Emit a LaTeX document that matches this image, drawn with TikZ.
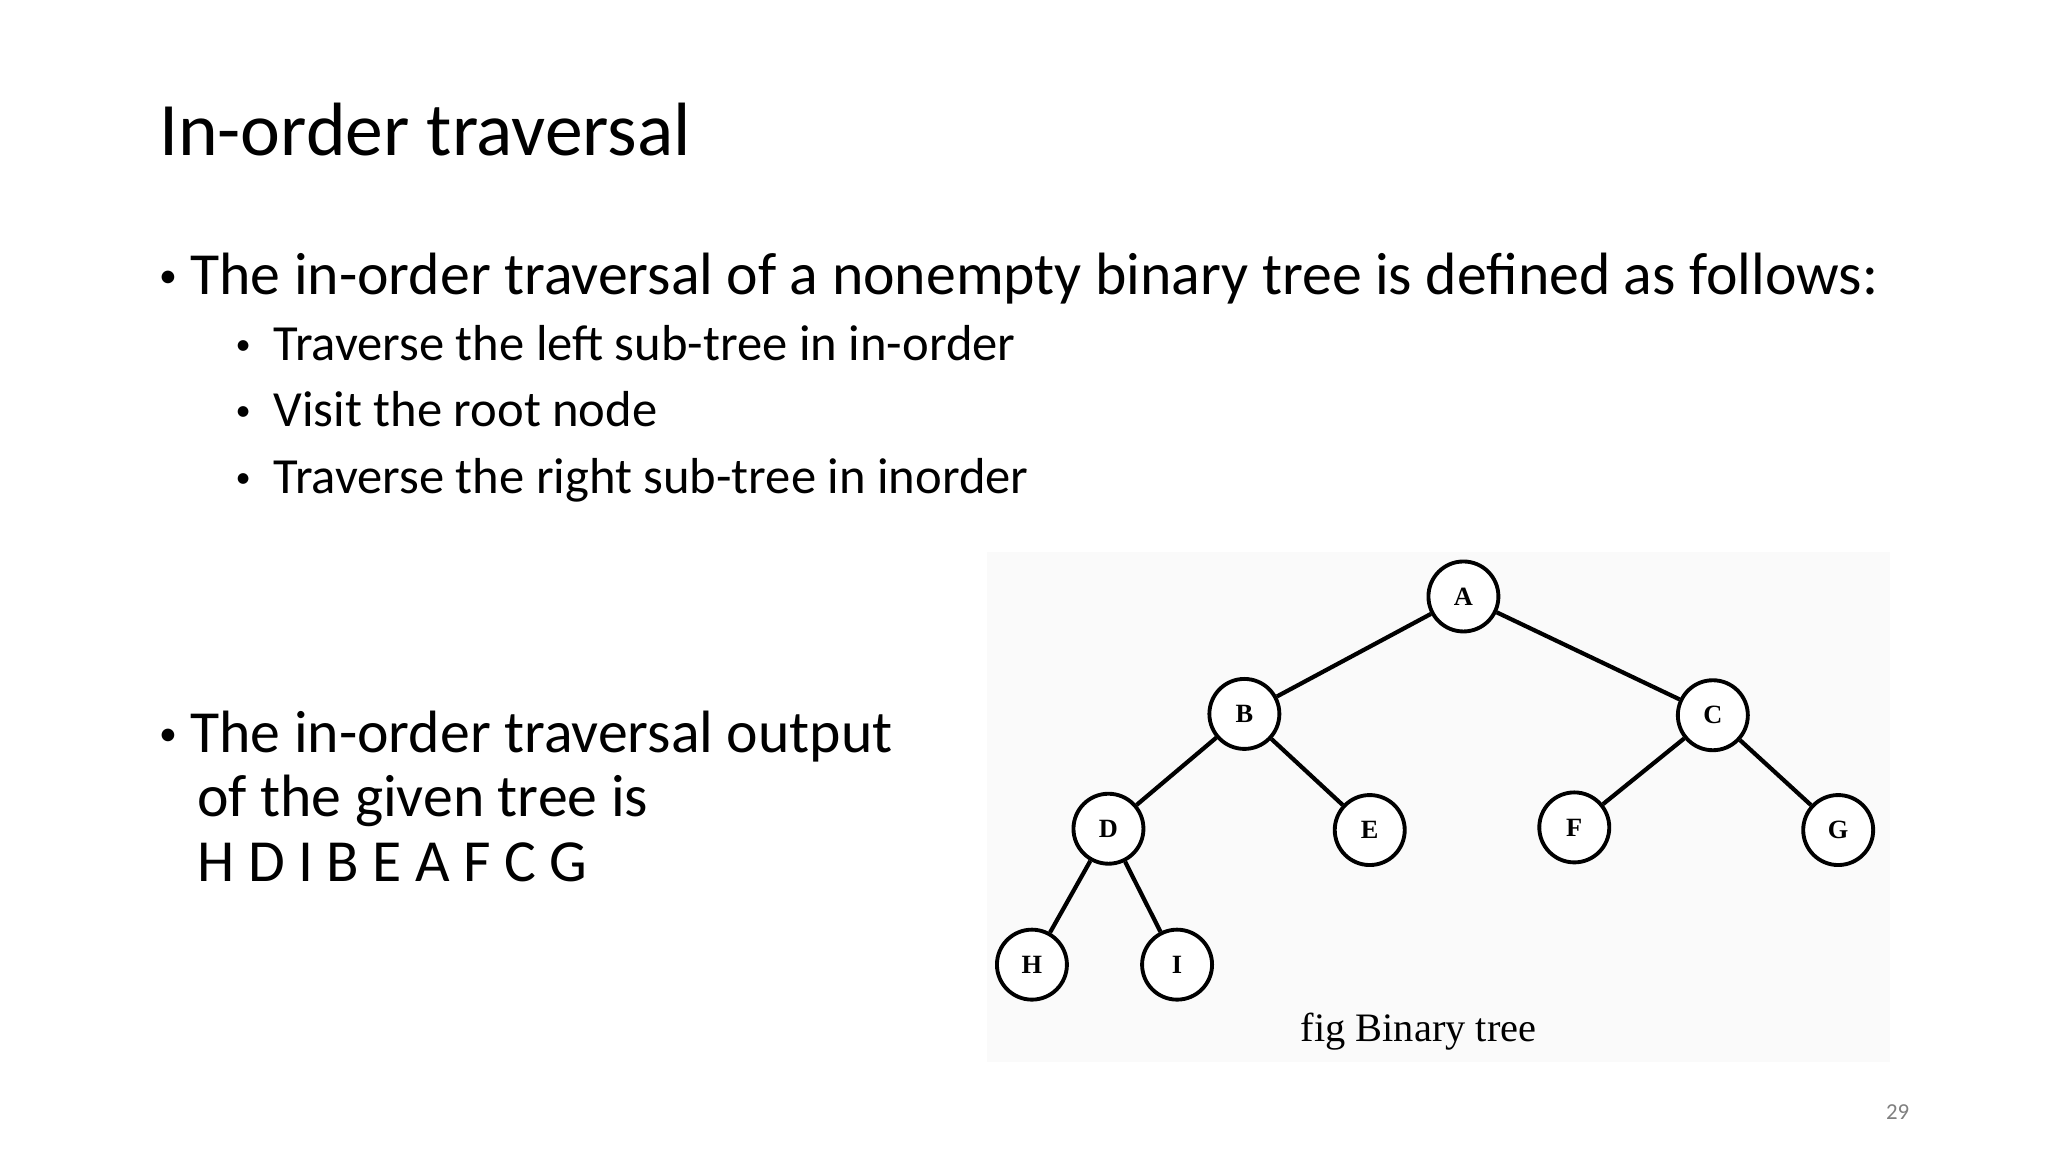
\documentclass[tikz,border=0pt]{standalone}
\usepackage{fontspec}
\setmainfont{Carlito}
\newfontfamily\treefont{Liberation Serif}
\newcommand{\mybul}{\raisebox{0.12em}{\scalebox{0.6}{\textbullet}}}
\begin{document}
\begin{tikzpicture}[x=0.013196cm,y=-0.013196cm,
  tn/.style={circle,draw,line width=1.1pt,minimum size=0.70cm,inner sep=0pt,font=\treefont\bfseries\fontsize{7.5}{9}\selectfont,fill=white},
  ed/.style={line width=1.2pt},
  txt/.style={anchor=base west,inner sep=0pt}]
\useasboundingbox (0,0) rectangle (1552,873);
\fill[white] (0,0) rectangle (1552,873);
\node[txt,font=\fontsize{21.5}{26}\selectfont] (title) at (120,118) {In-order traversal};
\node[txt,font=\fontsize{17}{21}\selectfont] (b1) at (120,223) {\mybul\ The in-order traversal of a nonempty binary tree is defined as follows:};
\node[txt,font=\fontsize{14.4}{18}\selectfont] (s1) at (178,273) {\mybul\ \ Traverse the left sub-tree in in-order};
\node[txt,font=\fontsize{14.4}{18}\selectfont] (s2) at (178,323) {\mybul\ \ Visit the root node};
\node[txt,font=\fontsize{14.4}{18}\selectfont] (s3) at (178,374) {\mybul\ \ Traverse the right sub-tree in inorder};
\node[txt,font=\fontsize{17}{21}\selectfont] (b2) at (120,570) {\mybul\ The in-order traversal output};
\node[txt,font=\fontsize{17}{21}\selectfont] (b2b) at (149,619) {of the given tree is};
\node[txt,font=\fontsize{17}{21}\selectfont] (b2c) at (149,668) {H D I B E A F C G};
\fill[gray!4] (748,418) rectangle (1432,805);
\node[tn] (A) at (1109,452) {A};
\node[tn] (B) at (943,541) {B};
\node[tn] (C) at (1298,542) {C};
\node[tn] (D) at (840,628) {D};
\node[tn] (E) at (1038,629) {E};
\node[tn] (F) at (1193,627) {F};
\node[tn] (G) at (1393,629) {G};
\node[tn] (H) at (782,731) {H};
\node[tn] (I) at (892,731) {I};
\draw[ed] (A)--(B); \draw[ed] (A)--(C);
\draw[ed] (B)--(D); \draw[ed] (B)--(E);
\draw[ed] (C)--(F); \draw[ed] (C)--(G);
\draw[ed] (D)--(H); \draw[ed] (D)--(I);
\node[font=\treefont\fontsize{11.5}{13}\selectfont] (cap) at (1075,782) {fig Binary tree};
\node[font=\fontsize{6.5}{8}\selectfont,text=gray] (pg) at (1438,843) {29};
\end{tikzpicture}
\end{document}
